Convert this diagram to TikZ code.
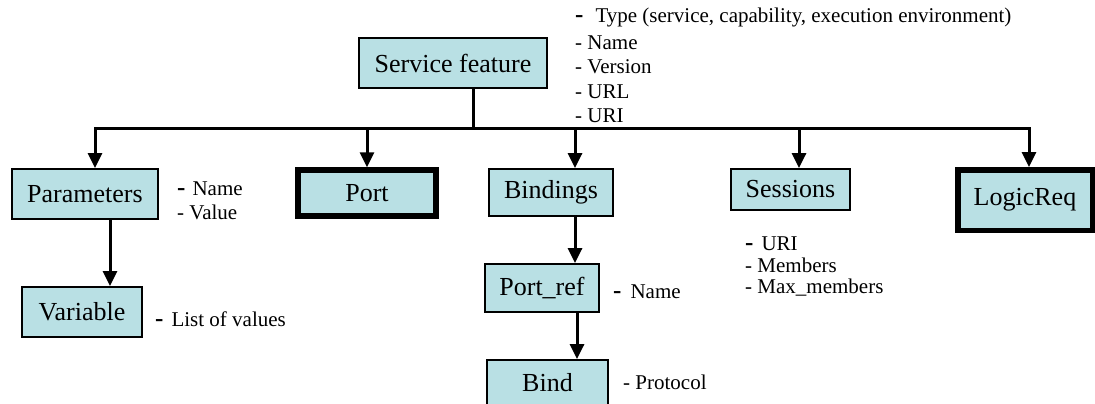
\documentclass[tikz,border=0pt]{standalone}
\usepackage{fontspec}
\setmainfont{Liberation Serif}
\usetikzlibrary{arrows.meta}
\definecolor{boxfill}{RGB}{185,224,228}
\newcommand{\bdash}{{\fontsize{25}{25}\selectfont\bfseries -}}
\begin{document}
\begin{tikzpicture}[x=1pt,y=-1pt,
  box/.style={draw=black, line width=1.8pt, fill=boxfill, inner sep=0pt, font=\fontsize{26}{30}\selectfont, anchor=center},
  thickbox/.style={box, line width=5.5pt},
  conn/.style={line width=3pt},
  arr/.style={conn, -{Triangle[length=15pt,width=14pt]}},
  lbl/.style={inner sep=0pt, anchor=base west, font=\fontsize{21}{24}\selectfont},
]
\useasboundingbox (0,0) rectangle (1095,404);
% boxes
\node[box, minimum width=188pt, minimum height=50pt] (sf) at (453,63) {Service feature};
\node[box, minimum width=146pt, minimum height=50pt] (params) at (85,194) {Parameters};
\node[thickbox, minimum width=138pt, minimum height=46pt] (port) at (367,193) {Port};
\node[box, minimum width=124pt, minimum height=47pt] (bindings) at (551,192.5) {Bindings};
\node[box, minimum width=119pt, minimum height=41pt] (sessions) at (790.5,189.5) {Sessions};
\node[thickbox, minimum width=134.5pt, minimum height=60.5pt] (logic) at (1025,200) {LogicReq};
\node[box, minimum width=120pt, minimum height=50pt] (variable) at (82,312) {Variable};
\node[box, minimum width=114pt, minimum height=48pt] (portref) at (542,288) {Port\_ref};
\node[box, minimum width=121pt, minimum height=46pt] (bind) at (547.5,383) {Bind};
% connectors
\coordinate (bar) at (473,128);
\draw[conn] ([xshift=20pt]sf.south) -- (bar);
\draw[arr] (bar) -| ([xshift=10pt]params.north);
\draw[arr] (bar) -| (port.north);
\draw[arr] (bar) -| ([xshift=24pt]bindings.north);
\draw[arr] (bar) -| ([xshift=8.5pt]sessions.north);
\draw[arr] (bar) -| ([xshift=4pt]logic.north);
\draw[arr] ([xshift=25pt]params.south) -- ([xshift=28pt]variable.north);
\draw[arr] ([xshift=24pt]bindings.south) -- ([xshift=33pt]portref.north);
\draw[arr] ([xshift=35pt]portref.south) -- ([xshift=29.5pt]bind.north);
% labels
\node[lbl] (t1) at (575,23) {\bdash\hspace{12pt}Type (service, capability, execution environment)};
\node[lbl] (t2) at (575,49) {- Name};
\node[lbl] (t3) at (575,74) {- Version};
\node[lbl] (t4) at (575,98) {- URL};
\node[lbl] (t5) at (575,122) {- URI};
\node[lbl] (p1) at (177,195) {\bdash\hspace{7pt}Name};
\node[lbl] (p2) at (177,219) {- Value};
\node[lbl] (v1) at (155,326) {\bdash\hspace{8pt}List of values};
\node[lbl] (r1) at (613,298) {\bdash\hspace{9pt}Name};
\node[lbl] (b1) at (623,389) {- Protocol};
\node[lbl] (s1) at (745,250) {\bdash\hspace{8pt}URI};
\node[lbl] (s2) at (745,272) {- Members};
\node[lbl] (s3) at (745,293) {- Max\_members};
\end{tikzpicture}
\end{document}
